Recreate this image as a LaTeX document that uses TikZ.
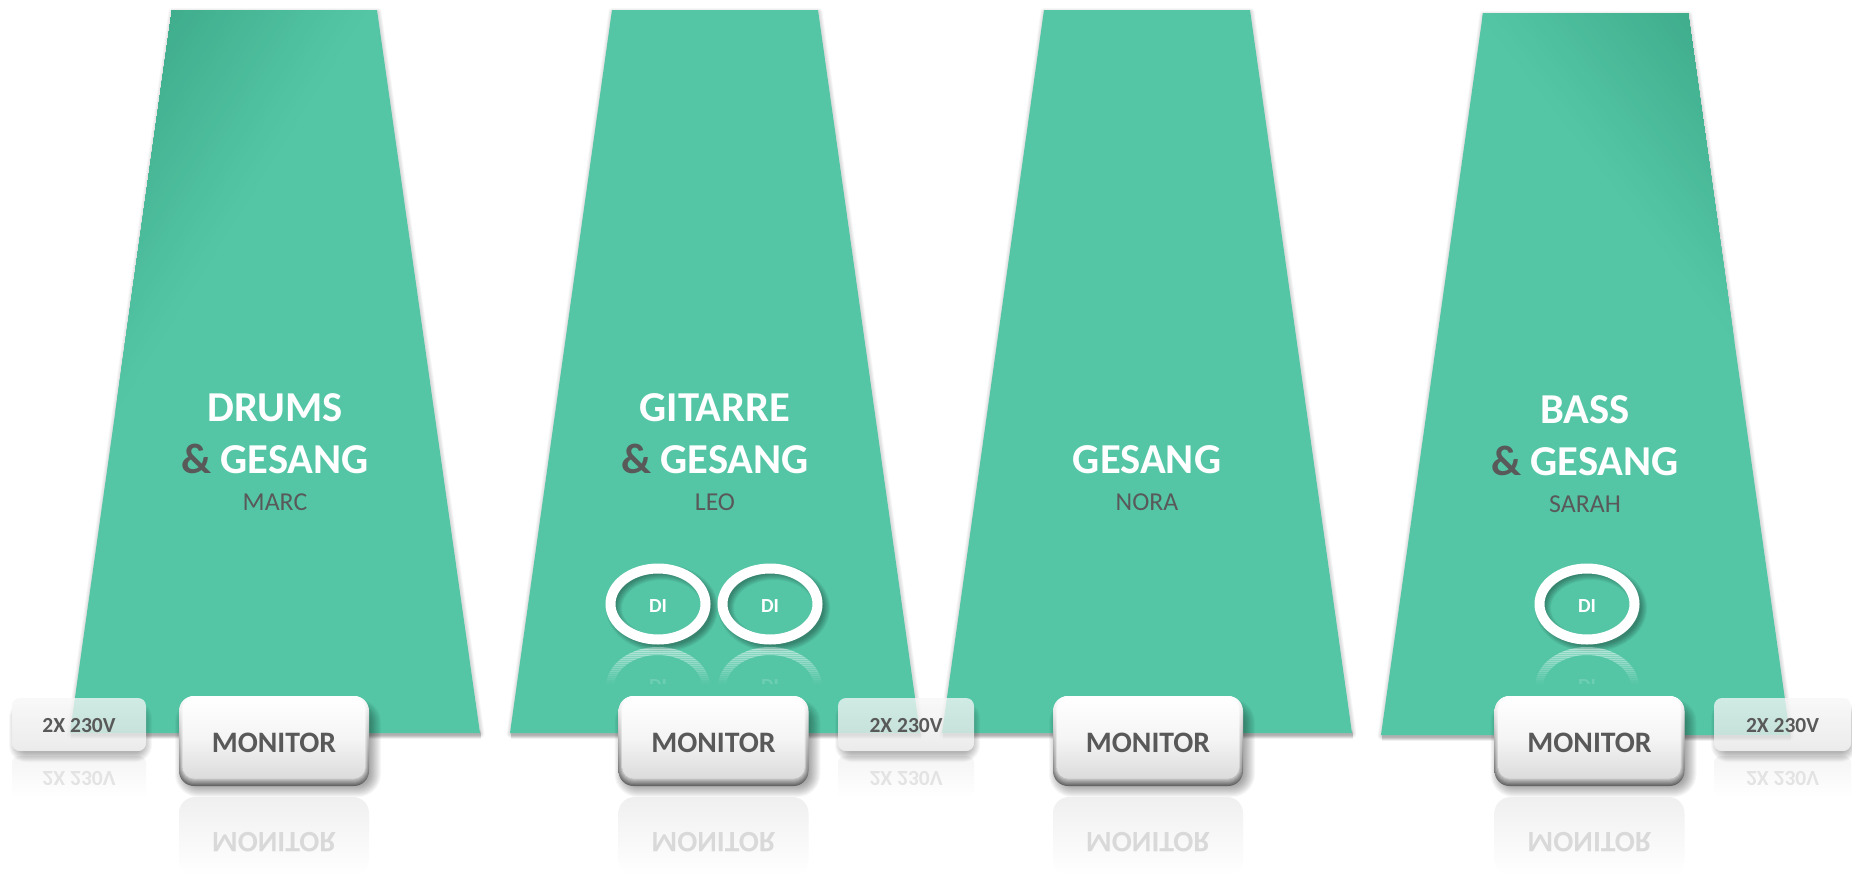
\documentclass[tikz,border=0pt]{standalone}
\usepackage{fontspec}
\usepackage{graphicx}
\setmainfont{Carlito}
\usetikzlibrary{shapes.geometric}
\definecolor{teal}{HTML}{54C6A6}
\definecolor{tealdark}{HTML}{40AE8D}
\definecolor{ink}{HTML}{595959}
\tikzset{
  headline/.style={anchor=base,inner sep=0pt,text=white,font=\fontsize{42.6}{50}\selectfont\bfseries},
  person/.style={anchor=base,inner sep=0pt,text=ink,font=\fontsize{25.8}{30}\selectfont},
  monbox/.style={rectangle,rounded corners=11pt,minimum width=182pt,minimum height=81pt,inner sep=0pt,outer sep=0pt,
     top color=white,bottom color=white!86!black,middle color=white!96!black},
  monlabel/.style={anchor=base,inner sep=0pt,text=ink,font=\fontsize{29.7}{34}\selectfont\bfseries},
  monghost/.style={anchor=center,inner sep=0pt,text=black!15,font=\fontsize{29.7}{34}\selectfont\bfseries},
  powlabel/.style={anchor=base,inner sep=0pt,text=ink,font=\fontsize{21.5}{26}\selectfont\bfseries},
  powghost/.style={anchor=center,inner sep=0pt,text=black!11,font=\fontsize{21.5}{26}\selectfont\bfseries},
  dibox/.style={ellipse,draw=white,line width=10pt,minimum width=95pt,minimum height=71pt,inner sep=0pt,outer sep=0pt},
  dilabel/.style={anchor=base,inner sep=0pt,text=white,font=\fontsize{20}{24}\selectfont\bfseries},
}
% soft shadow under a rounded box: x0 y0 x1 y1 radius alpha
\newcommand\softrect[6]{%
  \foreach \rr in {9,8,...,-2}{%
    \pgfmathsetmacro\rc{max(#5+\rr,1)}%
    \fill[black,opacity=#6,rounded corners=\rc pt] ({#1-\rr},{#2-\rr}) rectangle ({#3+\rr},{#4+\rr});
  }}
% trapezoid: top-left top-right bottom-right bottom-left x, top y, bottom y
\newcommand\trapshadow[6]{%
  \foreach \rr in {8,6.5,5,3.5,2}{%
    \draw[black,opacity=0.026,line width=\rr pt,line join=round]
      ({#1+0.5},{#5+2}) -- ({#2+0.5},{#5+2}) -- ({#3+0.5},{#6+1}) -- ({#4+0.5},{#6+1}) -- cycle;
  }
  \foreach \rr in {9,7,5,3}{%
    \draw[black,opacity=0.05,line width=\rr pt] ({#4+1},{#6+1}) -- ({#3+1},{#6+1});
  }}
\newcommand\trapfill[6]{%
  \fill[teal] (#1,#5) -- (#2,#5) -- (#3,#6) -- (#4,#6) -- cycle;
}
% nested bands from the dark corner: corner x, y, angle, reach
\newcommand\cornerdark[4]{%
  \begin{scope}[shift={(#1,#2)},rotate=#3]
    \foreach \k in {30,29,...,1}{%
      \pgfmathsetmacro\pct{100-(\k-1)*100/30}%
      \pgfmathsetmacro\wd{\k*#4/30}%
      \fill[tealdark!\pct!teal] (-80,-600) rectangle (\wd,600);
    }
  \end{scope}}
\newcommand\monitor[2]{% name, centre x
  \pgfmathsetmacro\ml{#2-95}\pgfmathsetmacro\mr{#2+95}
  % reflection
  \shade[top color=black!6,bottom color=white,rounded corners=16pt] (\ml,797) rectangle (\mr,875);
  \node[monghost] (#1g) at (#2,842.5) {\scalebox{1}[-1]{MONITOR}};
  % shadow
  \softrect{\ml+5}{708}{\mr+3}{788}{14}{0.03}
  % bevel built from nested boxes
  \foreach \k in {0,...,7}{%
    \pgfmathsetmacro\gr{62-6*\k}%
    \pgfmathsetmacro\sg{14-1.4*\k}%
    \pgfmathsetmacro\rc{15-0.4*\k}%
    \shade[top color=white,middle color=black!\sg,bottom color=black!\gr,rounded corners=\rc pt]
       ({\ml+0.5*\k},{696+0.1*\k}) rectangle ({\mr-0.5*\k},{786-\k});
  }
  \node[monbox] (#1) at (#2,738) {};
  \node[monlabel] (#1t) at (#2,752) {MONITOR};
}
\newcommand\power[3]{% name, left x, right x
  \pgfmathsetmacro\pc{(#2+#3)/2}
  \shade[top color=black!4,bottom color=white,rounded corners=7pt] (#2,756) rectangle (#3,798);
  \node[powghost] (#1g) at ({\pc},778) {\scalebox{1}[-1]{2X 230V}};
  \begin{scope}[even odd rule,rounded corners=8pt]
    \clip (0,0) rectangle (1852,876) (#2,698) rectangle (#3,751);
    \softrect{#2+6}{710}{#3-3}{753}{8}{0.032}
  \end{scope}
  \shade[top color=white!97!black,bottom color=white!90!black,fill opacity=0.76,rounded corners=8pt] (#2,698) rectangle (#3,751);
  \node[powlabel] (#1t) at ({\pc},732) {2X 230V};
}
\newcommand\dicircle[2]{% name, centre x
  \foreach \rr in {16,14,12,10,8,6,4}{%
    \draw[black,opacity=0.05,line width=\rr pt] ({#2+4},608) ellipse [x radius=48pt,y radius=36pt];
  }
  % reflection of the ring, fading out downwards
  \foreach \k in {0,...,17}{%
    \pgfmathsetmacro\op{0.36*(1-\k/18)}%
    \begin{scope}
      \clip ({#2-60},{647+2*\k}) rectangle ({#2+60},{649+2*\k});
      \draw[white,opacity=\op,line width=8pt] (#2,687) ellipse [x radius=48pt,y radius=36pt];
    \end{scope}
  }
  \begin{scope}
    \clip ({#2-30},660) rectangle ({#2+30},683);
    \node[anchor=center,inner sep=0pt,text=white,text opacity=0.15,font=\fontsize{20}{24}\selectfont\bfseries] (#1g) at (#2,685.5) {\scalebox{1}[-1]{DI}};
  \end{scope}
  \node[dibox] (#1) at (#2,604) {};
  \node[dilabel] (#1t) at (#2,612) {DI};
}
\begin{document}
\begin{tikzpicture}[x=1pt,y=-1pt]
\useasboundingbox (0,0) rectangle (1852,876);
\fill[white] (0,0) rectangle (1852,876);

% stage areas
\trapshadow{172}{377}{480}{70}{10}{733}
\trapshadow{612}{818}{920}{510}{10}{733}
\trapshadow{1044}{1250}{1352}{942}{10}{733}
\trapshadow{1483}{1688}{1790}{1381}{13}{735}
\trapfill{172}{377}{480}{70}{10}{733}
\trapfill{612}{818}{920}{510}{10}{733}
\trapfill{1044}{1250}{1352}{942}{10}{733}
\trapfill{1483}{1688}{1790}{1381}{13}{735}
% corner darkening
\begin{scope}
  \clip (172,10) -- (377,10) -- (480,733) -- (70,733) -- cycle;
  \cornerdark{172}{10}{-32}{165}
\end{scope}
\begin{scope}
  \clip (1483,13) -- (1688,13) -- (1790,735) -- (1381,735) -- cycle;
  \cornerdark{1688}{13}{218}{165}
\end{scope}

% DI boxes
\dicircle{di1}{658}
\dicircle{di2}{770}
\dicircle{di3}{1587}

% monitors
\monitor{m1}{274}
\monitor{m2}{713.5}
\monitor{m3}{1148}
\monitor{m4}{1589.5}

% power
\power{p1}{12}{146}
\power{p2}{838}{974}
\power{p3}{1714}{1851}

% labels
\node[headline] (a1) at (275,421) {DRUMS};
\node[headline] (b1) at (275,473) {{\color{ink}\&} GESANG};
\node[person] (c1) at (275,510) {MARC};
\node[headline] (a2) at (715,421) {GITARRE};
\node[headline] (b2) at (715,473) {{\color{ink}\&} GESANG};
\node[person] (c2) at (715,510) {LEO};
\node[headline] (b3) at (1147,473) {GESANG};
\node[person] (c3) at (1147,510) {NORA};
\node[headline] (a4) at (1585,423) {BASS};
\node[headline] (b4) at (1585,475) {{\color{ink}\&} GESANG};
\node[person] (c4) at (1585,512) {SARAH};
\end{tikzpicture}
\end{document}
